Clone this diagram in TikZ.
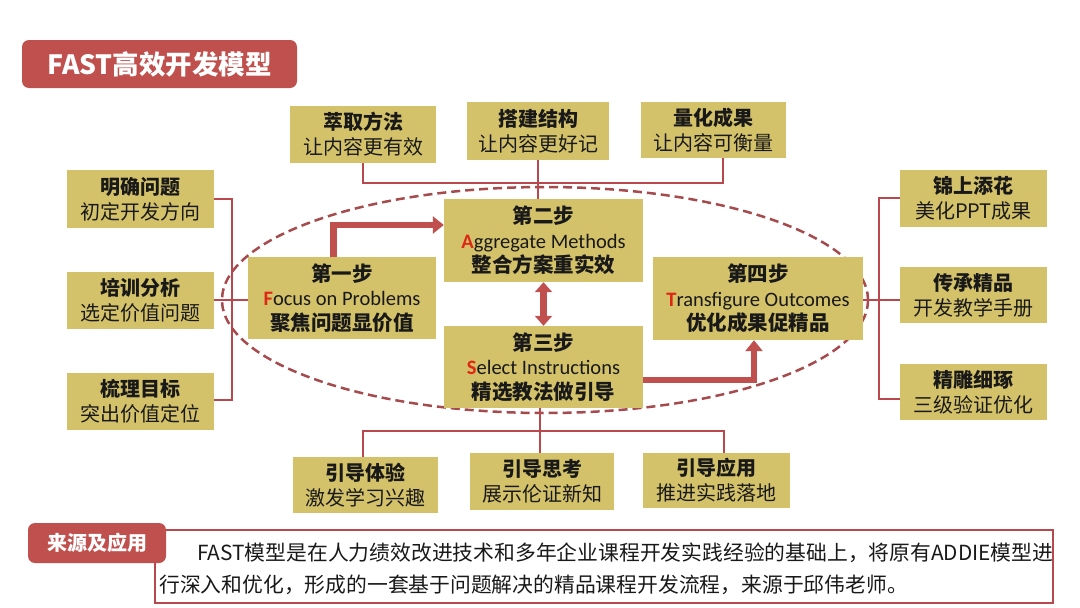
\documentclass[tikz,border=0pt]{standalone}
\usepackage{fontspec}
\setmainfont{Noto Sans CJK SC}
\newfontfamily\latf{Carlito}
\usetikzlibrary{arrows.meta}
\definecolor{boxc}{RGB}{212,194,106}
\definecolor{redc}{RGB}{192,80,77}
\definecolor{linec}{RGB}{185,72,78}
\definecolor{dashc}{RGB}{165,75,78}
\definecolor{initc}{RGB}{222,40,22}
\definecolor{txt}{RGB}{25,25,25}
\newcommand{\stepen}[2]{{\latf\textcolor{initc}{\textbf{#1}}#2}}
\begin{document}
\begin{tikzpicture}[x=1pt,y=-1pt,
  sidebox/.style={fill=boxc, inner sep=0pt, align=center, text=txt,
    font=\fontsize{20}{25}\selectfont},
  stepbox/.style={fill=boxc, inner sep=0pt, align=center, text=txt,
    font=\fontsize{20.5}{24.5}\selectfont},
  bracket/.style={draw=linec, line width=2pt},
  bigarrow/.style={draw=redc, line width=6.5pt, -{Triangle[length=11pt,width=17pt]}},
  dblarrow/.style={draw=redc, line width=6.5pt, {Triangle[length=10pt,width=17pt]}-{Triangle[length=10pt,width=17pt]}},
  tagbox/.style={fill=redc, rounded corners=7pt, text=white, inner sep=0pt},
  srctext/.style={anchor=west, inner sep=0pt, text=txt, font=\fontsize{20.8}{25}\selectfont}
]
\useasboundingbox (0,0) rectangle (1080,608);
\fill[white] (0,0) rectangle (1080,608);

% title
\node[tagbox, minimum width=275pt, minimum height=48pt,
  font=\fontsize{26.5}{30}\selectfont\bfseries] (title) at (159.5,64) {FAST高效开发模型};

% dashed ellipse
\draw[dashc, line width=2.5pt, dash pattern=on 9pt off 5pt] (545,300) ellipse [x radius=323, y radius=113];

% top boxes
\node[sidebox, minimum width=146pt, minimum height=57pt] (t1) at (363,134.5) {\textbf{萃取方法}\\让内容更有效};
\node[sidebox, minimum width=142pt, minimum height=58pt] (t2) at (538,131) {\textbf{搭建结构}\\让内容更好记};
\node[sidebox, minimum width=145pt, minimum height=56pt] (t3) at (713.5,130) {\textbf{量化成果}\\让内容可衡量};

% left boxes
\node[sidebox, minimum width=147pt, minimum height=58pt] (l1) at (140.5,199) {\textbf{明确问题}\\初定开发方向};
\node[sidebox, minimum width=147pt, minimum height=57pt] (l2) at (140.5,300.5) {\textbf{培训分析}\\选定价值问题};
\node[sidebox, minimum width=147pt, minimum height=57pt] (l3) at (140.5,401.5) {\textbf{梳理目标}\\突出价值定位};

% right boxes
\node[sidebox, minimum width=147pt, minimum height=57pt] (r1) at (973.5,198.5) {\textbf{锦上添花}\\美化PPT成果};
\node[sidebox, minimum width=147pt, minimum height=56pt] (r2) at (973.5,295) {\textbf{传承精品}\\开发教学手册};
\node[sidebox, minimum width=147pt, minimum height=56pt] (r3) at (973.5,392) {\textbf{精雕细琢}\\三级验证优化};

% bottom boxes
\node[sidebox, minimum width=145pt, minimum height=56pt] (b1) at (365.5,485) {\textbf{引导体验}\\激发学习兴趣};
\node[sidebox, minimum width=144pt, minimum height=57pt] (b2) at (542,481.5) {\textbf{引导思考}\\展示伦证新知};
\node[sidebox, minimum width=147pt, minimum height=55pt] (b3) at (716.5,480.5) {\textbf{引导应用}\\推进实践落地};

% step boxes
\node[stepbox, minimum width=188pt, minimum height=82pt] (s1) at (342,298) {\textbf{第一步}\\\stepen{F}{ocus on Problems}\\\textbf{聚焦问题显价值}};
\node[stepbox, minimum width=199pt, minimum height=83pt] (s2) at (543.5,240.5) {\textbf{第二步}\\\stepen{A}{ggregate Methods}\\\textbf{整合方案重实效}};
\node[stepbox, minimum width=199pt, minimum height=82pt] (s3) at (543.5,367) {\textbf{第三步}\\\stepen{S}{elect Instructions}\\\textbf{精选教法做引导}};
\node[stepbox, minimum width=210pt, minimum height=83pt] (s4) at (758,298.5) {\textbf{第四步}\\\stepen{T}{ransfigure Outcomes}\\\textbf{优化成果促精品}};

% top bracket
\coordinate (tl) at (363,183);
\coordinate (tr) at (723,183);
\draw[bracket] (t1.south) -- (tl) -- (tr) -- (tr |- t3.south);
\draw[bracket] (t2.south) -- (t2.south |- s2.north);

% bottom bracket
\coordinate (bl) at (363,431);
\coordinate (br) at (724,431);
\draw[bracket] (bl |- b1.north) -- (bl) -- (br) -- (br |- b3.north);
\draw[bracket] ([xshift=-2pt]b2.north) -- ([xshift=-2pt]b2.north |- s3.south);

% left bracket
\coordinate (lt) at (232,199);
\coordinate (lb) at (232,400);
\draw[bracket] (l1.east |- lt) -- (lt) -- (lb) -- (l3.east |- lb);
\draw[bracket] (l2.east |- 0,300) -- (s1.west |- 0,300);

% right bracket
\coordinate (rt) at (879,198);
\coordinate (rb) at (879,399);
\draw[bracket] (r1.west |- rt) -- (rt) -- (rb) -- (r3.west |- rb);
\draw[bracket] (s4.east |- 0,300) -- (r2.west |- 0,300);

% thick arrows
\draw[bigarrow] ([xshift=-8.5pt]s1.north) |- ([yshift=15.5pt]s2.west);
\draw[dblarrow] (s2.south) -- (s3.south |- s3.north);
\draw[bigarrow] ([yshift=-13pt]s3.east) -| ([xshift=-4pt]s4.south);

% bottom source box
\node[draw=linec, line width=1.5pt, fill=white, minimum width=898pt, minimum height=73pt, inner sep=0pt] (src) at (604,566.5) {};
\node[tagbox, minimum width=138pt, minimum height=40pt,
  font=\fontsize{20}{24}\selectfont\bfseries] (tag) at (97,543) {来源及应用};
\node[srctext] (line1) at (197,553)
  {FAST模型是在人力绩效改进技术和多年企业课程开发实践经验的基础上，将原有ADDIE模型进};
\node[srctext] (line2) at (159,585)
  {行深入和优化，形成的一套基于问题解决的精品课程开发流程，来源于邱伟老师。};
\end{tikzpicture}
\end{document}
